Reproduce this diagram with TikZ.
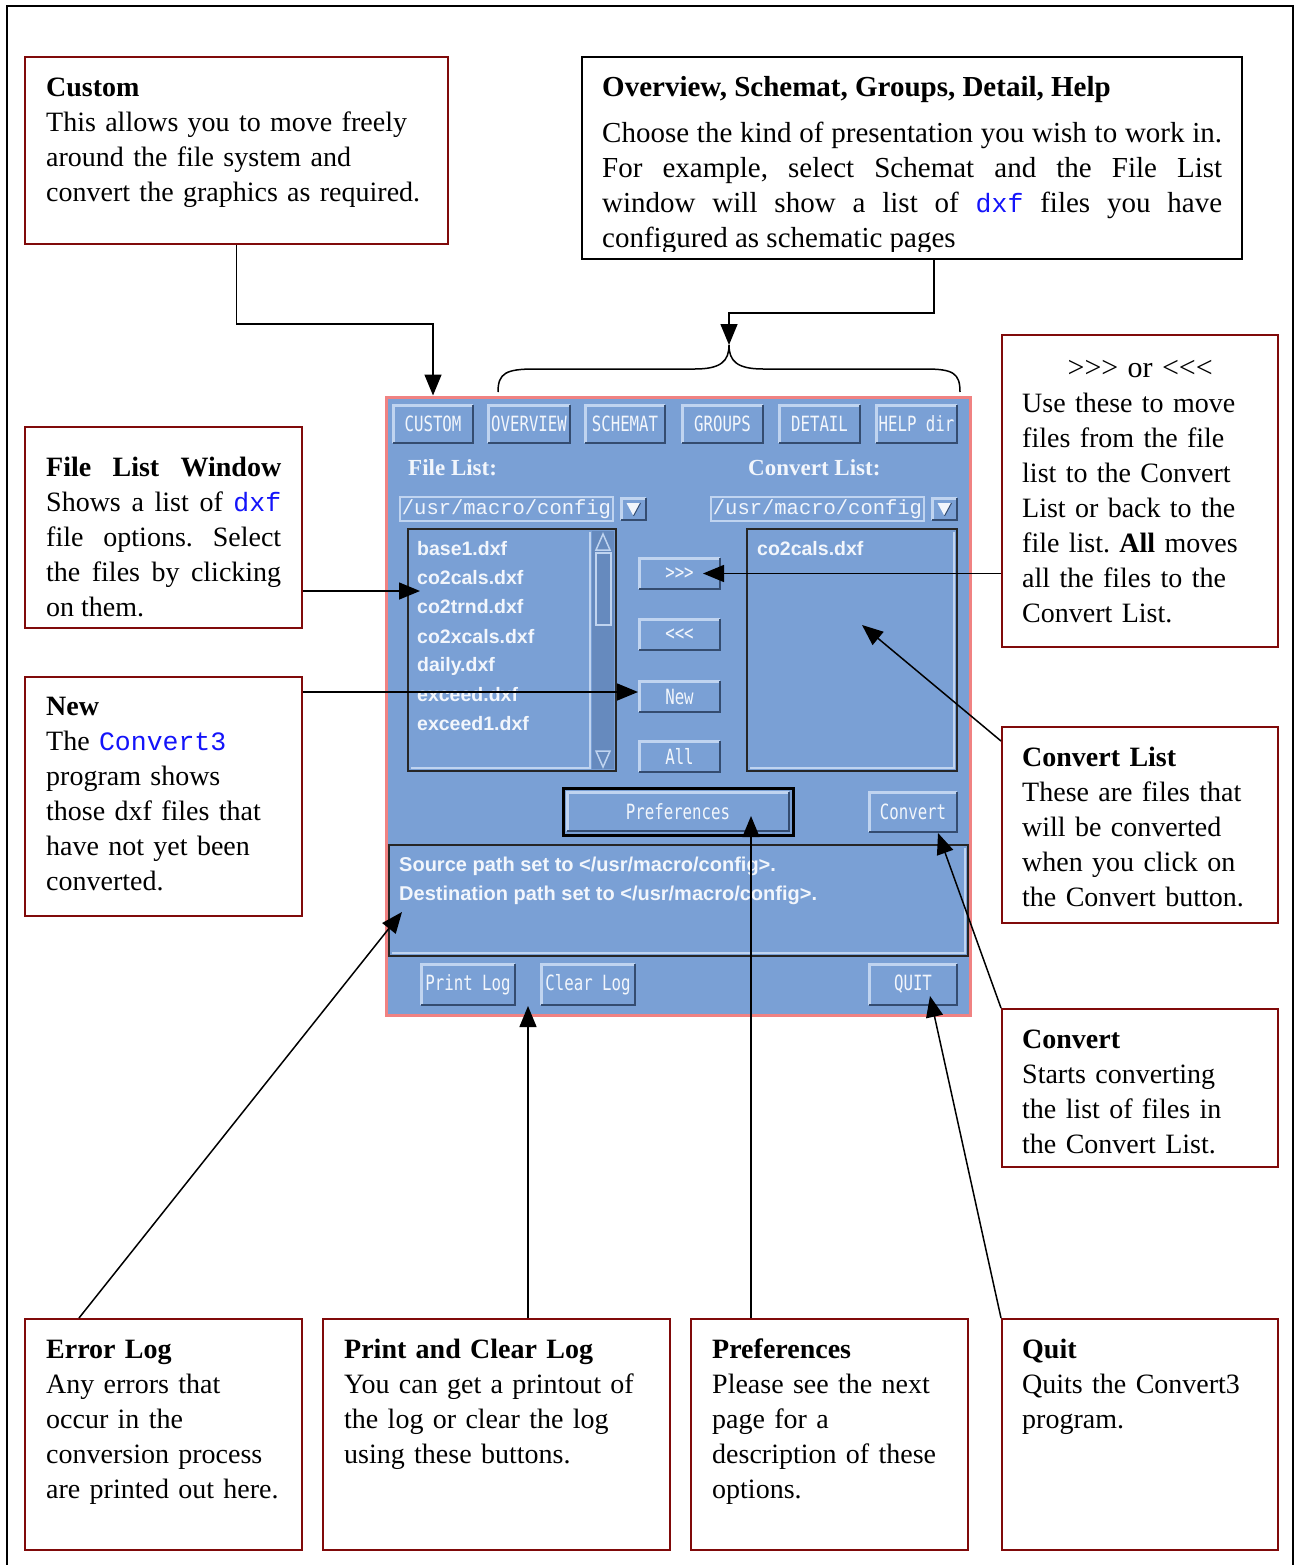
\documentclass[tikz,border=0pt]{standalone}
\usepackage{fontspec}
\setmainfont{Liberation Serif}
\setmonofont{Liberation Mono}
\newfontfamily\guimono[FakeStretch=0.75]{DejaVu Sans Mono}
\newfontfamily\guisans{Liberation Sans}
\usetikzlibrary{arrows.meta,fit,calc}

\definecolor{notered}{RGB}{128,10,10}
\definecolor{codeblue}{RGB}{20,20,250}
\definecolor{guiblue}{RGB}{122,160,213}
\definecolor{guilight}{RGB}{192,212,240}
\definecolor{guidark}{RGB}{52,76,112}
\definecolor{guitext}{RGB}{242,246,252}
\definecolor{guipink}{RGB}{240,130,130}
\definecolor{guitrough}{RGB}{102,138,190}

\newcommand\codeword[1]{{\ttfamily\fontsize{26.5}{35}\selectfont\color{codeblue}#1}}

% a Motif-style push button: name, x1, y1, x2, y2, label
\newcommand\gbutton[6]{%
  \node[gbtn, minimum width=#4-#2, minimum height=#5-#3] (#1) at ({(#2+#4)/2},{(#3+#5)/2}) {#6};
  \draw[guilight, line width=2.5pt] ([shift={(1.25,-1.25)}]#1.south west) -- ([shift={(1.25,1.25)}]#1.north west) -- ([shift={(-1.25,1.25)}]#1.north east);
  \draw[guidark, line width=2.5pt] ([shift={(-1.25,1.25)}]#1.north east) -- ([shift={(-1.25,-1.25)}]#1.south east) -- ([shift={(1.25,-1.25)}]#1.south west);
}

\tikzset{
  notebox/.style={draw=notered, line width=2pt, inner sep=0},
  noteboxk/.style={draw=black, line width=2pt, inner sep=0},
  notetext/.style={anchor=north west, inner sep=0, align=left,
    font=\frenchspacing\fontsize{28}{35}\selectfont, execute at begin node=\strut},
  arr/.style={line width=1.5pt, -{Triangle[length=21pt,width=17pt]}},
  gbtn/.style={fill=guiblue, inner sep=0, outer sep=0, text=guitext,
    font=\guimono\fontsize{21}{21}\selectfont},
  glabel/.style={anchor=west, inner sep=0, text=guitext,
    font=\bfseries\fontsize{23}{23}\selectfont},
  gfield/.style={fill=guiblue, draw=guilight, line width=2pt, inner sep=0, text=guitext,
    minimum width=213, minimum height=24, font=\ttfamily\fontsize{20.5}{20.5}\selectfont},
  glist/.style={fill=guiblue, draw=black!85, line width=2.5pt, inner sep=0},
  gentry/.style={anchor=west, inner sep=0, text=guitext,
    font=\guisans\bfseries\fontsize{19.5}{19.5}\selectfont},
  glog/.style={gentry, font=\guisans\bfseries\fontsize{20}{20}\selectfont},
}

\begin{document}
\begin{tikzpicture}[x=1pt, y=-1pt]
\useasboundingbox (0,0) rectangle (1295,1565);
\fill[white] (0,0) rectangle (1295,1565);

% page frame
\draw[line width=1.5pt] (7,1570) -- (7,6) -- (1293,6) -- (1293,1570);

% ---------- the converter window ----------
\node[fit={(386,397) (970,1015)}, inner sep=0, draw=guipink, line width=3pt, fill=guiblue] (gui) {};

\gbutton{bCustom}{392}{404}{474}{444}{CUSTOM}
\gbutton{bOverview}{487}{404}{571}{444}{OVERVIEW}
\gbutton{bSchemat}{584}{404}{666}{444}{SCHEMAT}
\gbutton{bGroups}{681}{404}{764}{444}{GROUPS}
\gbutton{bDetail}{778}{404}{861}{444}{DETAIL}
\gbutton{bHelp}{875}{404}{958}{444}{HELP dir}

\node[glabel] (lFile) at (408,468) {File List:};
\node[glabel] (lConv) at (748,468) {Convert List:};

\node[gfield] (pathL) at (506.5,509) {/usr/macro/config};
\gbutton{ddL}{620}{497}{647}{521}{}
\fill[guitext] ($(ddL.center)+(-7,-6)$) -- ($(ddL.center)+(7,-6)$) -- ($(ddL.center)+(0,7)$) -- cycle;
\draw[guidark, line width=1pt] ($(ddL.center)+(7,-6)$) -- ($(ddL.center)+(0,7)$);
\node[gfield] (pathR) at (817.5,509) {/usr/macro/config};
\gbutton{ddR}{931}{497}{958}{521}{}
\fill[guitext] ($(ddR.center)+(-7,-6)$) -- ($(ddR.center)+(7,-6)$) -- ($(ddR.center)+(0,7)$) -- cycle;
\draw[guidark, line width=1pt] ($(ddR.center)+(7,-6)$) -- ($(ddR.center)+(0,7)$);

% file list with its scroll bar
\node[glist, fit={(408,529) (616,771)}] (flist) {};
\node[fit={(592,531) (614,769)}, fill=guitrough, inner sep=0] (sbar) {};
\draw[guilight, line width=1.5pt] (590,532) -- (590,768) -- (411,768);
\draw[guilight, line width=1.5pt] (596,550) -- (603,534) -- (610,550) -- cycle;
\node[fit={(596,553) (611,625)}, inner sep=0, draw=guilight, line width=1.5pt] (thumb) {};
\draw[guilight, line width=1.5pt] (596,751) -- (610,751) -- (603,767) -- cycle;
\node[gentry] (fe1) at (417,549) {base1.dxf};
\node[gentry] (fe2) at (417,578) {co2cals.dxf};
\node[gentry] (fe3) at (417,607) {co2trnd.dxf};
\node[gentry] (fe4) at (417,637) {co2xcals.dxf};
\node[gentry] (fe5) at (417,666) {daily.dxf};
\node[gentry] (fe6) at (417,695) {exceed.dxf};
\node[gentry] (fe7) at (417,724) {exceed1.dxf};

% transfer buttons
\gbutton{bRight}{638}{557}{721}{590}{>{}>{}>}
\gbutton{bLeft}{638}{618}{721}{651}{<{}<{}<}
\gbutton{bNew}{638}{680}{721}{713}{New}
\gbutton{bAll}{638}{740}{721}{773}{All}

% convert list
\node[glist, fit={(747,529) (957,771)}] (clist) {};
\draw[guilight, line width=1.5pt] (954,532) -- (954,768) -- (750,768);
\node[gentry] (ce1) at (757,549) {co2cals.dxf};

% preferences and convert
\node[fit={(563,788) (793,835)}, draw=black, line width=3pt, inner sep=0] (bPrefFrame) {};
\gbutton{bPref}{566}{791}{790}{832}{Preferences}
\gbutton{bConvert}{868}{791}{958}{833}{Convert}

% message log
\node[glist, fit={(389,845) (968,956)}] (log) {};
\draw[guilight, line width=1.5pt] (392,953) -- (965,953) -- (965,848);
\node[glog] (log1) at (399,866) {Source path set to </usr/macro/config>.};
\node[glog] (log2) at (399,895) {Destination path set to </usr/macro/config>.};

\gbutton{bPrint}{420}{963}{516}{1006}{Print Log}
\gbutton{bClear}{540}{963}{636}{1006}{Clear Log}
\gbutton{bQuit}{868}{963}{958}{1006}{QUIT}

% ---------- explanation boxes ----------
\node[notebox, fit={(25,57) (448,244)}] (custom) {};
\node[notetext, text width=410pt] (customT) at (46,71.5)
  {\textbf{Custom}\\ This allows you to move freely\\ around the file system and\\ convert the graphics as required.};

\node[noteboxk, fit={(582,57) (1242,259)}] (ov) {};
\begin{scope}
  \clip (583,58) rectangle (1241,251);
  \node[notetext, text width=620pt, align=justify, font=\frenchspacing\fontsize{29}{35}\selectfont] (ovT) at (602,71.5)
    {\textbf{Overview, Schemat, Groups, Detail, Help}\\[11pt]
     Choose the kind of presentation you wish to work in.\linebreak
     For example, select Schemat and the File List\linebreak
     window will show a list of \codeword{dxf} files you have\linebreak
     configured as schematic pages};
\end{scope}

\node[notebox, fit={(1002,335) (1278,647)}] (mv) {};
\node[notetext, text width=236pt] (mvT) at (1022,352.5)
  {\makebox[236pt]{\fontsize{30}{35}\selectfont>{}>{}> or <{}<{}<}\\ Use these to move\\ files from the file\\ list to the Convert\\
   List or back to the\\ file list. \textbf{All} moves\\ all the files to the\\ Convert List.};

\node[notebox, fit={(25,427) (302,628)}] (flw) {};
\node[notetext, text width=235pt, align=justify] (flwT) at (46,451.5)
  {\textbf{File List Window}\linebreak Shows a list of \codeword{dxf}\linebreak file options. Select\linebreak
   the files by clicking\linebreak on them.};

\node[notebox, fit={(25,677) (302,916)}] (new) {};
\node[notetext, text width=250pt] (newT) at (46,690.5)
  {\textbf{New}\\ The \codeword{Convert3}\\ program shows\\
   those dxf files that\\ have not yet been\\ converted.};

\node[notebox, fit={(1002,727) (1278,923)}] (cl) {};
\node[notetext, text width=250pt] (clT) at (1022,741.5)
  {\textbf{Convert List}\\ These are files that\\ will be converted\\ when you click on\\ the Convert button.};

\node[notebox, fit={(1002,1009) (1278,1167)}] (cv) {};
\node[notetext, text width=250pt] (cvT) at (1022,1023.5)
  {\textbf{Convert}\\ Starts converting\\ the list of files in\\ the Convert List.};

\node[notebox, fit={(25,1319) (302,1550)}] (el) {};
\node[notetext, text width=250pt] (elT) at (46,1333.5)
  {\textbf{Error Log}\\ Any errors that\\ occur in the\\ conversion process\\ are printed out here.};

\node[notebox, fit={(323,1319) (670,1550)}] (pcl) {};
\node[notetext, text width=320pt] (pclT) at (344,1333.5)
  {\textbf{Print and Clear Log}\\ You can get a printout of\\ the log or clear the log\\ using these buttons.};

\node[notebox, fit={(691,1319) (968,1550)}] (pr) {};
\node[notetext, text width=250pt] (prT) at (712,1333.5)
  {\textbf{Preferences}\\ Please see the next\\ page for a\\ description of these\\ options.};

\node[notebox, fit={(1002,1319) (1278,1550)}] (qt) {};
\node[notetext, text width=250pt] (qtT) at (1022,1333.5)
  {\textbf{Quit}\\ Quits the Convert3\\ program.};

% ---------- connectors ----------
\coordinate (braceL) at (498,392);
\coordinate (braceR) at (960,392);
\coordinate (bracetip) at (729,345);
\draw[line width=1.5pt] (braceL) .. controls (498,373) and (506,369) .. (535,369) -- (695,369)
  .. controls (721,369) and (729,361) .. (bracetip)
  .. controls (729,361) and (737,369) .. (763,369) -- (925,369)
  .. controls (953,369) and (960,373) .. (braceR);

\draw[arr] (custom.south) -- ++(0,79) -| (bCustom.north |- gui.north);
\draw[arr] ([xshift=22pt]ov.south) -- ++(0,53) -| (bracetip);

\coordinate (flwtip) at (420,591);
\draw[arr] (flw.east |- flwtip) -- (flwtip);
\coordinate (newtip) at ([yshift=4.5pt]bNew.west);
\draw[arr] (new.east |- newtip) -- (newtip);
\draw[arr] (mv.west |- bRight.east) -- ([xshift=-18pt]bRight.east);

\coordinate (cltip) at (862,625);
\draw[arr] ([yshift=-15pt]cl.north west) -- (cltip);
\draw[arr] (cv.north west) -- ([xshift=25pt]bConvert.south);
\draw[arr] (qt.north west) -- ([shift={(17,-10)}]bQuit.south);

\coordinate (preftip) at (751,816);
\draw[arr] (pr.north -| preftip) -- (preftip);
\coordinate (logtip) at ($(bPrint.south east)!0.5!(bClear.south west)$);
\draw[arr] (pcl.north -| logtip) -- (logtip);
\coordinate (eltip) at (402,912);
\draw[arr] ([xshift=55pt]el.north west) -- (eltip);
\end{tikzpicture}
\end{document}
